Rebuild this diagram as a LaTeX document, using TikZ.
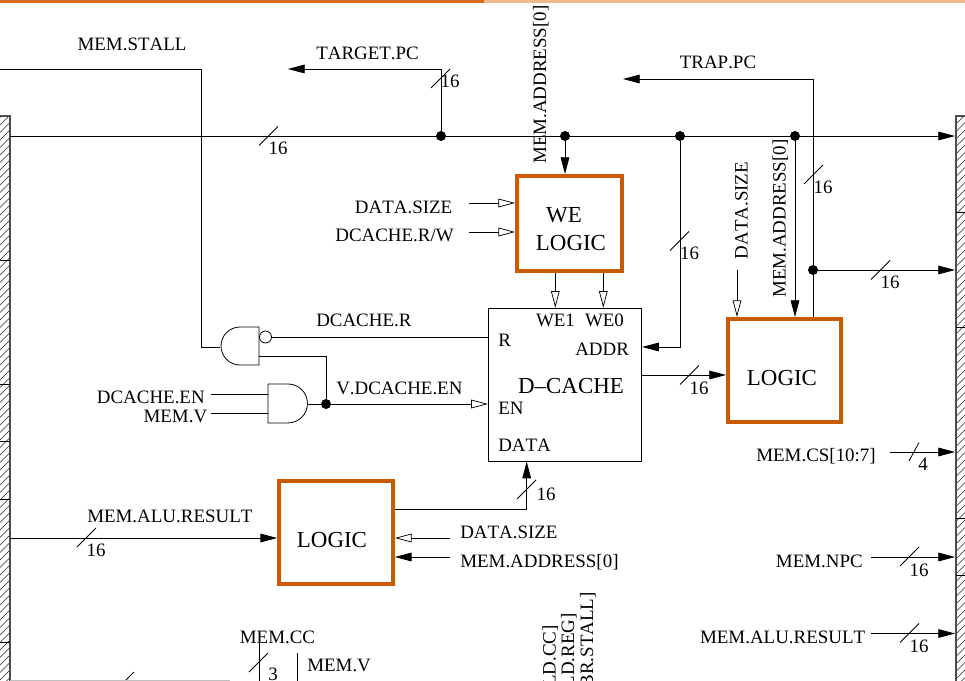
\documentclass[tikz,border=0pt]{standalone}
\usepackage{fontspec}
\setmainfont[Kerning=Off]{Liberation Serif}
\usetikzlibrary{arrows.meta,calc}
\definecolor{boxorange}{HTML}{C95A00}
\definecolor{barorange}{HTML}{D96B1C}
\definecolor{barlight}{HTML}{F0B990}
\tikzset{
  wire/.style={line width=0.6pt,line cap=butt,line join=miter},
  fa/.style={wire,-{Triangle[length=12.5pt,width=6.5pt]}},
  ha/.style={wire,-{Triangle[length=12.5pt,width=6.5pt,fill=white,line width=0.55pt]}},
  tick/.style={line width=0.6pt},
  orangebox/.style={draw=boxorange,line width=3pt,inner sep=0pt,rectangle},
  cachebox/.style={draw=black,line width=0.65pt,inner sep=0pt,rectangle},
  dot/.style={circle,fill=black,inner sep=0pt,minimum size=7.5pt},
  bubble/.style={circle,draw=black,fill=white,line width=0.6pt,inner sep=0pt,minimum size=9pt},
  lab/.style={inner sep=0pt,font=\fontsize{14.2}{16}\selectfont},
  big/.style={inner sep=0pt,font=\fontsize{17.2}{20}\selectfont},
  hatch/.style={line width=0.4pt,black!85},
  wallline/.style={line width=0.8pt,black!70},
}
\newcommand{\busmark}[2]{\draw[tick] ($(#1,#2)+(-9.5,9.5)$) -- ($(#1,#2)+(9.5,-9.5)$);}
\begin{document}
\begin{tikzpicture}[x=0.75pt,y=-0.75pt]
\useasboundingbox (0,0) rectangle (965,681);
\clip (0,0) rectangle (965,681);
\fill[barorange] (0,0) rectangle (484,3);
\fill[barlight] (484,0) rectangle (965,3);
% walls
\begin{scope}
\clip (0,116) rectangle (10,681);
\foreach \h in {100,107.5,...,700} \draw[hatch] (0,\h+10) -- (10,\h);
\end{scope}
\begin{scope}
\clip (956,116) rectangle (965,681);
\foreach \h in {100,107.5,...,700} \draw[hatch] (956,\h+9) -- (965,\h);
\end{scope}
\draw[wallline] (0,116) -- (10,116) -- (10,681);
\draw[wallline] (965,116) -- (956,116) -- (956,681);
\foreach \h in {260,384.5,441.5,499,642.7} \draw[wire] (0,\h) -- (10,\h);
\foreach \h in {212,327,518,575.7} \draw[wire] (956,\h) -- (965,\h);
% boxes
\node[orangebox,minimum width=105*0.75pt,minimum height=95*0.75pt] (welogic) at (569.5,223.5) {};
\node[orangebox,minimum width=113*0.75pt,minimum height=103*0.75pt] (logicb) at (784.5,370.5) {};
\node[orangebox,minimum width=113.7*0.75pt,minimum height=102.7*0.75pt] (logicc) at (336,532.7) {};
\node[cachebox,minimum width=153.4*0.75pt,minimum height=153*0.75pt] (dcache) at (565,384.7) {};
% named points
\coordinate (busL) at (10,136);
\coordinate (busR) at (955,136);
\node[dot] (jt) at (441,136) {};
\node[dot] (ja) at (565,136) {};
\node[dot] (jb) at (680,136) {};
\node[dot] (jc) at (795,136) {};
\node[dot] (jd) at (813,270) {};
\node[dot] (je) at (326,404) {};
\coordinate (rw) at (955,270);
% bus
\draw[fa] (busL) -- (busR);
\busmark{268.5}{136}
\node[lab,anchor=base] (n16a) at (278,155) {16};
% stall
\coordinate (stallL) at (0,69);
\coordinate (stallC) at (201,69);
\coordinate (nandIn) at (220,347);
\draw[wire] (stallL) -- (stallC) -- (stallC |- nandIn) -- (nandIn);
\node[lab,anchor=base] (mstall) at (132,50.5) {MEM.STALL};
% target pc
\coordinate (tpcC) at (441,69);
\coordinate (tpcEnd) at (288,69);
\draw[fa] (jt) -- (tpcC) -- (tpcEnd);
\busmark{440.5}{78.5}
\node[lab,anchor=base] (n16b) at (450,88) {16};
\node[lab,anchor=base west] (tpc) at (316,60) {TARGET.PC};
% trap pc
\coordinate (trC) at (813,79);
\coordinate (trEnd) at (623,79);
\draw[fa] (jd |- logicb.north) -- (trC) -- (trEnd);
\busmark{813.5}{174.5}
\node[lab,anchor=base] (n16c) at (823,194) {16};
\node[lab,anchor=base] (trpc) at (718,69) {TRAP.PC};
\draw[fa] (jd) -- (rw);
\busmark{880.5}{270}
\node[lab,anchor=base] (n16d) at (890,289) {16};
% mem address to WE
\draw[fa] (ja) -- (ja |- welogic.north);
\node[lab,anchor=base west,rotate=90] (ma1) at (546,164) {MEM.ADDRESS[0]};
% addr into LOGIC B
\draw[fa] (jc) -- (jc |- logicb.north);
\node[lab,anchor=base west,rotate=90] (ma2) at (785.7,298) {MEM.ADDRESS[0]};
% data size into LOGIC B
\coordinate (dsb) at (737,270);
\draw[ha] (dsb) -- (dsb |- logicb.north);
\node[lab,anchor=base west,rotate=90] (ds2) at (747.7,259.5) {DATA.SIZE};
% WE logic
\node[big,anchor=base] (wetxt) at (564,222.5) {WE};
\node[big,anchor=base] (wlog) at (571,251) {LOGIC};
\coordinate (wa) at (469,203);
\coordinate (wb) at (469,232);
\draw[ha] (wa) -- (wa -| welogic.west);
\draw[ha] (wb) -- (wb -| welogic.west);
\node[lab,anchor=base east] (ds1) at (452.5,213.5) {DATA.SIZE};
\node[lab,anchor=base east] (drw) at (454,241.5) {DCACHE.R/W};
\coordinate (w1) at (555.3,273);
\coordinate (w0) at (603.3,273);
\draw[ha] (w1 |- welogic.south) -- (w1 |- dcache.north);
\draw[ha] (w0 |- welogic.south) -- (w0 |- dcache.north);
% d-cache labels
\node[lab,anchor=base] (lw1) at (555.5,326.7) {WE1};
\node[lab,anchor=base] (lw0) at (604.5,326.7) {WE0};
\node[lab,anchor=base west] (lr) at (498,346.5) {R};
\node[lab,anchor=base west] (laddr) at (575,355.7) {ADDR};
\node[big,anchor=base] (ldc) at (571,393.5) {D–CACHE};
\node[lab,anchor=base west] (len) at (498,414) {EN};
\node[lab,anchor=base west] (ldata) at (498,451.7) {DATA};
% ADDR wire
\coordinate (addrY) at (680,347);
\draw[fa] (jb) -- (addrY) -- (addrY -| dcache.east);
\busmark{679.5}{241}
\node[lab,anchor=base] (n16e) at (689.5,260) {16};
% d-cache out
\coordinate (dcout) at (641.7,375);
\draw[fa] (dcout) -- (dcout -| logicb.west);
\busmark{689.5}{375}
\node[lab,anchor=base] (n16f) at (699,394) {16};
\node[big,anchor=base] (lb) at (782,385) {LOGIC};
% gates
\draw[wire] (259,327) -- (240,327) arc[start angle=90,end angle=270,radius=14.25pt] -- (259,365) -- cycle;
\coordinate (nandOut) at (259,356);
\node[bubble] (bub) at (265.5,337) {};
\draw[wire] (268,384) -- (288,384) arc[start angle=90,end angle=-90,radius=14.6pt] -- (268,423) -- cycle;
\coordinate (andIn1) at (268,394);
\coordinate (andIn2) at (268,413);
\coordinate (andOut) at (307,404);
\coordinate (ena) at (211,394);
\coordinate (enb) at (211,413);
\draw[wire] (ena) -- (andIn1);
\draw[wire] (enb) -- (andIn2);
\node[lab,anchor=base east] (den) at (205,403.7) {DCACHE.EN};
\node[lab,anchor=base east] (mv) at (207.5,422.7) {MEM.V};
\coordinate (rIn) at (488,337);
\draw[wire] (bub.east) -- (rIn);
\node[lab,anchor=base west] (drd) at (316,327) {DCACHE.R};
\coordinate (fbC) at (326,356);
\draw[wire] (nandOut) -- (fbC) -- (je);
\draw[ha] (andOut) -- (andOut -| dcache.west);
\node[lab,anchor=base west] (vden) at (336,394) {V.DCACHE.EN};
% logic C
\coordinate (aluL) at (10,538);
\draw[fa] (aluL) -- (aluL -| logicc.west);
\busmark{86.5}{537.5}
\node[lab,anchor=base west] (malu) at (87,522) {MEM.ALU.RESULT};
\node[lab,anchor=base] (n16g) at (96,556.7) {16};
\node[big,anchor=base] (lc) at (332,547) {LOGIC};
\coordinate (lcOut) at (395,509);
\coordinate (lcC) at (526.7,509);
\draw[fa] (lcOut) -- (lcC) -- (lcC |- dcache.south);
\busmark{526.5}{489.5}
\node[lab,anchor=base] (n16h) at (546,500) {16};
\coordinate (dsc) at (450,538);
\coordinate (mac) at (450,557);
\draw[ha] (dsc) -- (dsc -| logicc.east);
\draw[fa] (mac) -- (mac -| logicc.east);
\node[lab,anchor=base west] (ds3) at (460,538) {DATA.SIZE};
\node[lab,anchor=base west] (ma3) at (460,567) {MEM.ADDRESS[0]};
% right column
\coordinate (csL) at (890,452);
\coordinate (csR) at (955,452);
\draw[fa] (csL) -- (csR);
\draw[tick] (909,461) -- (919,442.5);
\node[lab,anchor=base] (n4) at (923,470.7) {4};
\node[lab,anchor=base east] (mcs) at (876,461) {MEM.CS[10:7]};
\coordinate (npL) at (871,557);
\coordinate (npR) at (955,557);
\draw[fa] (npL) -- (npR);
\busmark{909.5}{556.5}
\node[lab,anchor=base] (n16i) at (919,576) {16};
\node[lab,anchor=base east] (mnpc) at (863,567) {MEM.NPC};
\coordinate (arL) at (871,633.5);
\coordinate (arR) at (955,633.5);
\draw[fa] (arL) -- (arR);
\busmark{909.5}{633}
\node[lab,anchor=base] (n16j) at (919,652.7) {16};
\node[lab,anchor=base east] (malu2) at (865.5,643) {MEM.ALU.RESULT};
% bottom
\node[lab,anchor=base] (mcc) at (277.5,643) {MEM.CC};
\coordinate (ccT) at (259,637);
\coordinate (ccB) at (259,681);
\draw[wire] (ccT) -- (ccB);
\busmark{258.5}{662.5}
\node[lab,anchor=base] (n3) at (273,680) {3};
\coordinate (vT) at (297,653);
\coordinate (vB) at (297,681);
\draw[wire] (vT) -- (vB);
\node[lab,anchor=base west] (mvb) at (307,671.7) {MEM.V};
\draw[tick] (125,681) -- (134,672);
\draw[black!25,line width=0.6pt] (10,680.6) -- (230,680.6);
\node[lab,anchor=base east,rotate=90] (ldcc) at (555.5,625) {LD.CC]};
\node[lab,anchor=base east,rotate=90] (ldreg) at (574,613) {LD.REG]};
\node[lab,anchor=base east,rotate=90] (brst) at (593,592) {BR.STALL]};
\end{tikzpicture}
\end{document}
